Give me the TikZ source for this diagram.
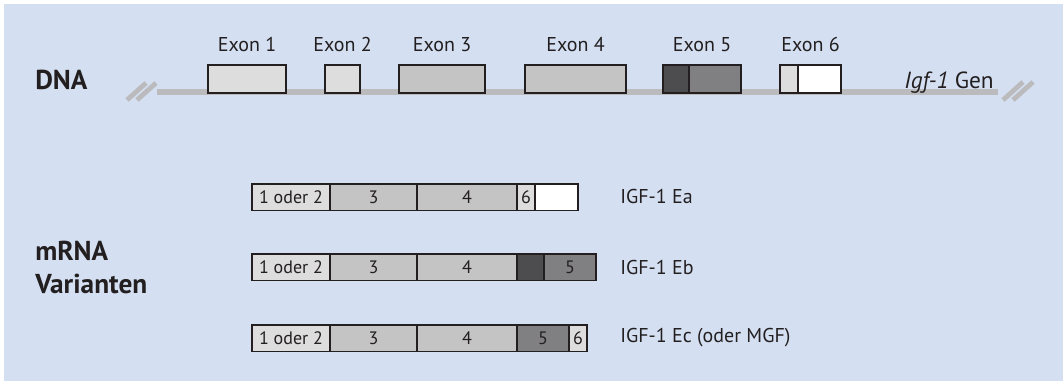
\documentclass[tikz,border=0pt]{standalone}
\usepackage{fontspec}
\setmainfont{PT Sans}
\usetikzlibrary{positioning,calc}
\definecolor{panelblue}{RGB}{212,224,241}
\definecolor{dnagrey}{RGB}{187,187,189}
\definecolor{exlight}{RGB}{221,221,222}
\definecolor{exmid}{RGB}{196,196,197}
\definecolor{exdark}{RGB}{77,77,79}
\definecolor{exgrey}{RGB}{128,128,131}
\definecolor{ink}{RGB}{35,31,32}
% one box: name, x left, x right, y top, y bottom, fill, text
\newcommand{\exbox}[7]{%
  \node[seg,fill=#6,minimum width={(#3-#2)*0.75pt},minimum height={(#5-#4)*0.75pt}]
    (#1) at ({(#2+#3)/2},{(#4+#5)/2}) {#7};}

\begin{document}
\begin{tikzpicture}[x=0.75pt,y=-0.75pt,
  seg/.style={draw=ink,line width=0.8pt,inner sep=0pt,text=ink,font=\fontsize{13.5}{15}\selectfont},
  lab/.style={inner sep=0pt,text=ink,font=\fontsize{15}{17}\selectfont},
  head/.style={inner sep=0pt,text=ink,font=\fontsize{20.5}{24}\selectfont\bfseries},
  brk/.style={dnagrey,line width=3.6pt}]
\useasboundingbox (0,0) rectangle (1063,381);
\fill[panelblue] (4,4) rectangle (1063,381);
% gene on the DNA
\coordinate (dnaL) at (157,92.5); \coordinate (dnaR) at (998,92.5);
\draw[dnagrey,line width=4.5pt] (dnaL) -- (dnaR);
\foreach \dx in {0,10} { \draw[brk] (127+\dx,100) -- (146+\dx,83); \draw[brk] (1003+\dx,100) -- (1023+\dx,82); }
\foreach \n/\a/\b/\c in {1/208/286/exlight,2/325/360/exlight,3/399/485/exmid,4/525/626/exmid} {
  \exbox{ex\n}{\a}{\b}{65}{93}{\c}{}
  \path (ex\n.north) ++(0,-13) node[lab,anchor=base] (exlab\n) {Exon \n};
}
\exbox{ex5a}{663}{689}{65}{93}{exdark}{} \exbox{ex5b}{689}{741}{65}{93}{exgrey}{}
\exbox{ex6a}{780}{798}{65}{93}{exlight}{} \exbox{ex6b}{798}{841}{65}{93}{white}{}
\path ($(ex5a.north west)!0.5!(ex5b.north east)$) ++(0,-13) node[lab,anchor=base] (exlab5) {Exon 5};
\path ($(ex6a.north west)!0.5!(ex6b.north east)$) ++(0,-13) node[lab,anchor=base] (exlab6) {Exon 6};
\node[head,anchor=base west] (dna) at (35,90) {DNA};
\node[lab,anchor=base east,font=\fontsize{17.5}{20}\selectfont] (gen) at (994,89) {\textit{Igf-1} Gen};
% mRNA variants
\foreach \r/\y in {a/184,b/254,c/325} {
  \exbox{\r12}{252}{330}{\y}{\y+26.5}{exlight}{1 oder 2}
  \exbox{\r3}{330}{417}{\y}{\y+26.5}{exmid}{3}
  \exbox{\r4}{417}{517}{\y}{\y+26.5}{exmid}{4}
}
\exbox{a6}{517}{535}{184}{210.5}{exlight}{6} \exbox{aend}{535}{578}{184}{210.5}{white}{}
\exbox{b5a}{517}{544}{254}{280.5}{exdark}{} \exbox{b5}{544}{596}{254}{280.5}{exgrey}{5}
\exbox{c5}{517}{569}{325}{351.5}{exgrey}{5} \exbox{c6}{569}{587}{325}{351.5}{exlight}{6}
\node[lab,anchor=west] (ea) at (620,197) {IGF-1 Ea};
\node[lab,anchor=west] (eb) at (620,267) {IGF-1 Eb};
\node[lab,anchor=west] (ec) at (620,338) {IGF-1 Ec (oder MGF)};
\node[head,anchor=base west] (mrna) at (35,260) {mRNA};
\node[head,anchor=base west] (var) at (35,293) {Varianten};
\end{tikzpicture}
\end{document}
